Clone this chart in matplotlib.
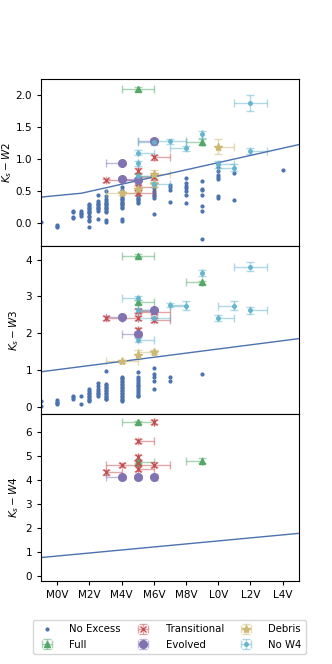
import numpy as np
import matplotlib
matplotlib.use('Agg')
import matplotlib.pyplot as plt
from matplotlib.colors import to_rgba

# seaborn "deep" colours
c_blue = '#4C72B0'
c_green = '#55A868'
c_red = '#C44E52'
c_purple = '#8172B2'
c_yellow = '#CCB974'
c_cyan = '#64B5CD'

spt_ticks = [0, 2, 4, 6, 8, 10, 12, 14]
spt_labels = ['M0V', 'M2V', 'M4V', 'M6V', 'M8V', 'L0V', 'L2V', 'L4V']

# photospheric thresholds
thr_spt = [-1, 1.5, 15]
thr_w2 = [0.41, 0.47, 1.23]
thr_w3 = [0.95, 1.23, 1.85]
thr_w4 = [0.77, 0.93, 1.78]

# ---- no excess (top: Ks-W2, middle: Ks-W3) ----
noex_w2 = {
    -1: [0.02],
    0: [-0.02, -0.06, -0.04],
    1: [0.20, 0.18, 0.10, 0.08],
    1.5: [0.19, 0.16, 0.14, 0.12],
    2: [0.30, 0.28, 0.26, 0.24, 0.22, 0.20, 0.18, 0.16, 0.12, 0.10, 0.05, 0.03, -0.05],
    2.5: [0.45, 0.35, 0.32, 0.30, 0.28, 0.26, 0.24, 0.22, 0.20, 0.07],
    3: [0.50, 0.42, 0.38, 0.35, 0.32, 0.30, 0.28, 0.26, 0.24, 0.22, 0.20, 0.17, 0.05, 0.02],
    4: [0.57, 0.52, 0.48, 0.45, 0.42, 0.40, 0.38, 0.36, 0.34, 0.32, 0.30, 0.28, 0.26, 0.24, 0.06, 0.04],
    5: [0.65, 0.60, 0.55, 0.50, 0.47, 0.44, 0.42, 0.40, 0.38, 0.36, 0.34, 0.32],
    6: [0.60, 0.55, 0.50, 0.47, 0.44, 0.42, 0.40, 0.15],
    7: [0.60, 0.56, 0.52, 0.33],
    8: [0.71, 0.63, 0.58, 0.55, 0.50, 0.44, 0.32],
    9: [0.66, 0.54, 0.52, 0.45, 0.27, 0.19, -0.25],
    10: [0.92, 0.88, 0.82, 0.76, 0.72, 0.69, 0.43, 0.39],
    11: [0.79, 0.37],
    14: [0.83],
}
noex_w3 = {
    -1: [0.16, 0.01],
    0: [0.18, 0.14, 0.10, 0.07],
    1: [0.30, 0.26, 0.22],
    1.5: [0.28, 0.07],
    2: [0.48, 0.42, 0.38, 0.34, 0.30, 0.26, 0.22, 0.18, 0.15],
    2.5: [0.64, 0.55, 0.48, 0.42, 0.38, 0.34, 0.28],
    3: [0.98, 0.62, 0.58, 0.54, 0.50, 0.46, 0.42, 0.38, 0.34, 0.30, 0.26, 0.22, 0.20],
    4: [0.82, 0.78, 0.74, 0.70, 0.66, 0.62, 0.58, 0.54, 0.50, 0.46, 0.42, 0.38, 0.34,
        0.30, 0.26, 0.22, 0.18, 0.15],
    5: [0.94, 0.80, 0.75, 0.70, 0.65, 0.60, 0.55, 0.50, 0.45, 0.40, 0.35, 0.30, 0.28],
    6: [1.05, 0.89, 0.80, 0.71, 0.48],
    7: [0.80, 0.69],
    9: [0.89],
}

# ---- Ks-W2 panel ----
full_w2_spt = [5, 5, 9]
full_w2 = [2.10, 0.74, 1.27]
full_w2_xlo = [1, 0, 1]
full_w2_xhi = [1, 1, 0]
full_w2_yerr = [0.03, 0.03, 0.05]

trans_w2_spt = [3, 6, 5, 5, 6, 5]
trans_w2 = [0.67, 1.03, 0.82, 0.48, 0.72, 0.56]
trans_w2_xlo = [0, 0, 0, 1, 1, 0]
trans_w2_xhi = [2, 1, 0, 1, 0, 1]
trans_w2_yerr = [0.03, 0.04, 0.04, 0.04, 0.04, 0.04]

evol_w2_spt = [4, 6, 4, 5]
evol_w2 = [0.94, 1.29, 0.70, 0.68]
evol_w2_xlo = [1, 1, 0, 1]
evol_w2_xhi = [0, 0, 1, 0]
evol_w2_yerr = [0.02, 0.02, 0.02, 0.02]

debris_w2_spt = [10, 6, 4, 5, 6]
debris_w2 = [1.20, 0.77, 0.48, 0.54, 0.61]
debris_w2_xlo = [0, 0, 1, 0, 0]
debris_w2_xhi = [1, 1, 1, 0, 0]
debris_w2_yerr = [0.12, 0.06, 0.03, 0.05, 0.04]

now4_w2_spt = [12, 9, 7, 8, 5, 6, 5, 5, 6, 10, 11, 12]
now4_w2 = [1.88, 1.39, 1.28, 1.17, 1.10, 1.27, 0.94, 0.74, 0.61, 0.92, 0.87, 1.13]
now4_w2_xlo = [1, 0, 1, 1, 0, 1, 0, 0, 0, 0, 1, 0]
now4_w2_xhi = [1, 0, 1, 0, 1, 0, 0, 1, 1, 1, 0, 1]
now4_w2_yerr = [0.12, 0.05, 0.04, 0.04, 0.04, 0.04, 0.04, 0.05, 0.04, 0.05, 0.06, 0.04]

# ---- Ks-W3 panel ----
full_w3_spt = [5, 5, 9]
full_w3 = [4.10, 2.84, 3.38]
full_w3_xlo = [1, 0, 1]
full_w3_xhi = [1, 1, 0]
full_w3_yerr = [0.04, 0.06, 0.05]

trans_w3_spt = [3, 5, 6, 5, 5, 6]
trans_w3 = [2.42, 2.42, 2.36, 2.60, 2.09, 2.58]
trans_w3_xlo = [0, 1, 0, 0, 0, 1]
trans_w3_xhi = [1, 0, 1, 1, 0, 1]
trans_w3_yerr = [0.05, 0.05, 0.05, 0.05, 0.06, 0.05]

evol_w3_spt = [4, 6, 5]
evol_w3 = [2.45, 2.63, 1.98]
evol_w3_xlo = [1, 1, 1]
evol_w3_xhi = [0, 0, 0]
evol_w3_yerr = [0.03, 0.03, 0.03]

debris_w3_spt = [4, 5, 6]
debris_w3 = [1.24, 1.41, 1.48]
debris_w3_xlo = [1, 0, 1]
debris_w3_xhi = [1, 0, 0]
debris_w3_yerr = [0.04, 0.12, 0.06]

now4_w3_spt = [12, 9, 7, 8, 11, 12, 10, 5, 5, 6, 5]
now4_w3 = [3.81, 3.64, 2.77, 2.75, 2.75, 2.62, 2.42, 2.95, 2.62, 2.42, 1.82]
now4_w3_xlo = [1, 0, 0, 1, 1, 0, 0, 1, 0, 1, 0]
now4_w3_xhi = [1, 0, 1, 0, 0, 1, 1, 0, 1, 1, 1]
now4_w3_yerr = [0.12, 0.08, 0.06, 0.12, 0.12, 0.10, 0.08, 0.06, 0.05, 0.05, 0.05]

# ---- Ks-W4 panel ----
full_w4_spt = [5, 5, 9]
full_w4 = [6.42, 4.78, 4.82]
full_w4_xlo = [1, 0, 1]
full_w4_xhi = [1, 1, 0]
full_w4_yerr = [0.06, 0.08, 0.10]

trans_w4_spt = [6, 5, 5, 5, 5, 4, 6, 3]
trans_w4 = [6.42, 5.65, 4.95, 4.72, 4.48, 4.65, 4.65, 4.33]
trans_w4_xlo = [0, 0, 0, 0, 0, 1, 1, 0]
trans_w4_xhi = [0, 1, 0, 0, 1, 1, 1, 1]
trans_w4_yerr = [0.08, 0.08, 0.10, 0.10, 0.10, 0.08, 0.10, 0.10]

evol_w4_spt = [4, 5, 6]
evol_w4 = [4.12, 4.12, 4.15]
evol_w4_xlo = [1, 0, 0]
evol_w4_xhi = [0, 0, 0.2]
evol_w4_yerr = [0.06, 0.06, 0.06]

plt.rcParams['font.family'] = ['DejaVu Sans']
plt.rcParams['font.size'] = 7.5

fig, axes = plt.subplots(3, 1, figsize=(3.32, 6.64), dpi=100, sharex=True)
fig.subplots_adjust(left=0.124, right=0.9, top=0.881, bottom=0.125, hspace=0)


def draw(ax, x, y, xlo, xhi, yerr, fmt, color, ms, label, mew=1.0):
    ax.errorbar(x, y, xerr=[xlo, xhi], yerr=yerr, fmt=fmt, color=color,
                ecolor=to_rgba(color, 0.5), ms=ms, mew=mew, capsize=3,
                elinewidth=1, label=label)


def draw_noex(ax, d):
    xs = []
    ys = []
    for k, vals in d.items():
        xs += [k] * len(vals)
        ys += vals
    ax.plot(xs, ys, '.', color=c_blue, ms=4, label='No Excess')


ax = axes[0]
draw_noex(ax, noex_w2)
draw(ax, full_w2_spt, full_w2, full_w2_xlo, full_w2_xhi, full_w2_yerr, '^', c_green, 5, 'Full')
draw(ax, trans_w2_spt, trans_w2, trans_w2_xlo, trans_w2_xhi, trans_w2_yerr, 'x', c_red, 5, 'Transitional')
draw(ax, evol_w2_spt, evol_w2, evol_w2_xlo, evol_w2_xhi, evol_w2_yerr, 'o', c_purple, 5.5, 'Evolved')
draw(ax, debris_w2_spt, debris_w2, debris_w2_xlo, debris_w2_xhi, debris_w2_yerr, '*', c_yellow, 6, 'Debris')
draw(ax, now4_w2_spt, now4_w2, now4_w2_xlo, now4_w2_xhi, now4_w2_yerr, '.', c_cyan, 5, 'No W4')
ax.plot(thr_spt, thr_w2, color=c_blue, lw=1)
ax.set_ylim(-0.36, 2.255)
ax.set_yticks([0.0, 0.5, 1.0, 1.5, 2.0])
ax.set_ylabel('$K_s - W2$', labelpad=1)

ax = axes[1]
draw_noex(ax, noex_w3)
draw(ax, full_w3_spt, full_w3, full_w3_xlo, full_w3_xhi, full_w3_yerr, '^', c_green, 5, 'Full')
draw(ax, trans_w3_spt, trans_w3, trans_w3_xlo, trans_w3_xhi, trans_w3_yerr, 'x', c_red, 5, 'Transitional')
draw(ax, evol_w3_spt, evol_w3, evol_w3_xlo, evol_w3_xhi, evol_w3_yerr, 'o', c_purple, 5.5, 'Evolved')
draw(ax, debris_w3_spt, debris_w3, debris_w3_xlo, debris_w3_xhi, debris_w3_yerr, '*', c_yellow, 6, 'Debris')
draw(ax, now4_w3_spt, now4_w3, now4_w3_xlo, now4_w3_xhi, now4_w3_yerr, '.', c_cyan, 5, 'No W4')
ax.plot([thr_spt[0], thr_spt[-1]], [thr_w3[0], thr_w3[-1]], color=c_blue, lw=1)
ax.set_ylim(-0.19, 4.36)
ax.set_yticks([0, 1, 2, 3, 4])
ax.set_ylabel('$K_s - W3$', labelpad=3)

ax = axes[2]
draw(ax, full_w4_spt, full_w4, full_w4_xlo, full_w4_xhi, full_w4_yerr, '^', c_green, 5, 'Full')
draw(ax, trans_w4_spt, trans_w4, trans_w4_xlo, trans_w4_xhi, trans_w4_yerr, 'x', c_red, 5, 'Transitional')
draw(ax, evol_w4_spt, evol_w4, evol_w4_xlo, evol_w4_xhi, evol_w4_yerr, 'o', c_purple, 5.5, 'Evolved')
ax.plot([thr_spt[0], thr_spt[-1]], [thr_w4[0], thr_w4[-1]], color=c_blue, lw=1)
ax.set_ylim(-0.21, 6.78)
ax.set_yticks([0, 1, 2, 3, 4, 5, 6])
ax.set_ylabel('$K_s - W4$', labelpad=3)

for a in axes:
    a.set_xlim(-1, 15)
    a.tick_params(length=3)
axes[0].tick_params(axis='x', bottom=False)
axes[1].tick_params(axis='x', bottom=False)
axes[2].set_xticks(spt_ticks)
axes[2].set_xticklabels(spt_labels)

# legend in column order like the original
h, l = axes[0].get_legend_handles_labels()
order = ['No Excess', 'Full', 'Transitional', 'Evolved', 'Debris', 'No W4']
handles = [h[l.index(n)] for n in order]
fig.legend(handles, order, loc='lower center', ncol=3, bbox_to_anchor=(0.51, 0.008),
           fontsize=7.3, columnspacing=1.2, handletextpad=1.2)

fig.savefig('out.png', dpi=100)
